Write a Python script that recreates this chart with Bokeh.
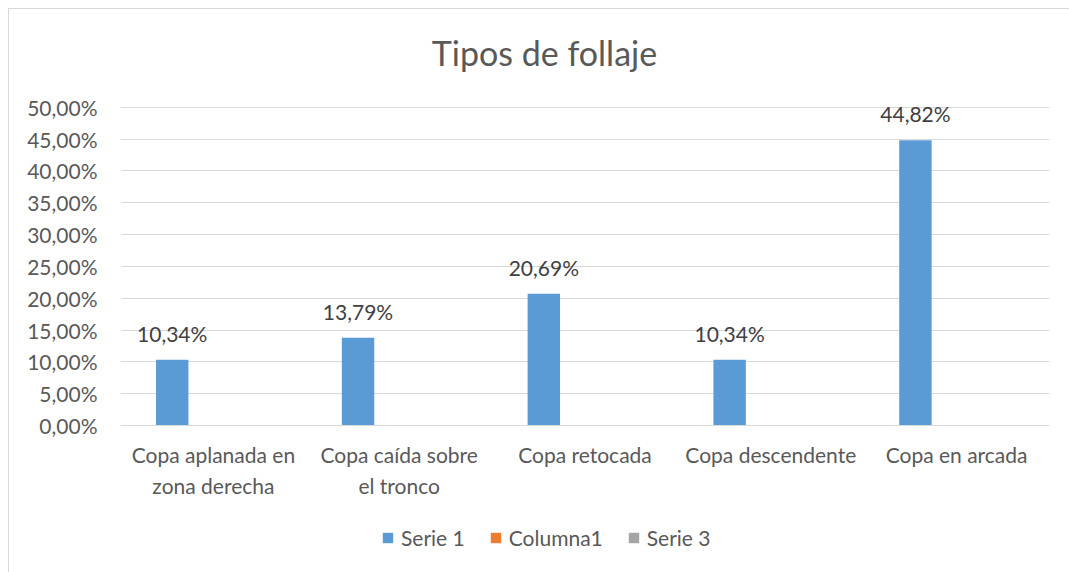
from bokeh.plotting import figure
from bokeh.models import (FactorRange, Range1d, FixedTicker, ColumnDataSource, LabelSet,
                          Legend, LegendItem, Label)
from bokeh.core.properties import value
from bokeh.transform import dodge
from bokeh.embed import file_html
from bokeh.resources import INLINE

# ---- data ----
title_text = "Tipos de follaje"
categories = ["Copa aplanada en\nzona derecha", "Copa caída sobre\nel tronco",
              "Copa retocada", "Copa descendente", "Copa en arcada"]
serie1 = [0.1034, 0.1379, 0.2069, 0.1034, 0.4482]
serie1_labels = ["10,34%", "13,79%", "20,69%", "10,34%", "44,82%"]
columna1 = [float("nan")] * 5   # empty series (legend only)
serie3 = [float("nan")] * 5     # empty series (legend only)
series_names = ["Serie 1", "Columna1", "Serie 3"]
series_colors = ["#5B9BD5", "#ED7D31", "#A5A5A5"]
y_ticks = [0.0, 0.05, 0.10, 0.15, 0.20, 0.25, 0.30, 0.35, 0.40, 0.45, 0.50]
y_tick_labels = ["0,00%", "5,00%", "10,00%", "15,00%", "20,00%", "25,00%",
                 "30,00%", "35,00%", "40,00%", "45,00%", "50,00%"]

FONT = "Lato"
TXT = "#595959"
FS = "21px"

# The frame spans the whole chart height; the value axis only ticks 0..50 %,
# the category axis is pinned at 0, so title, labels and legend all sit inside.
p = figure(x_range=FactorRange(*categories), y_range=Range1d(-0.2309, 0.6535),
           frame_width=929, frame_height=563,
           min_border_left=111, min_border_right=20, min_border_top=0,
           min_border_bottom=0,
           output_backend="svg", toolbar_location=None, margin=(8, 0, 0, 8))
p.styles = {"border-left": "1px solid #D9D9D9", "border-top": "1px solid #D9D9D9"}

p.outline_line_color = None
p.background_fill_color = "white"
p.border_fill_color = "white"

src = ColumnDataSource(dict(cat=categories, s1=serie1, s2=columna1, s3=serie3,
                            lab=serie1_labels))
offsets = [-0.2216, 0.0, 0.2216]
rends = []
for col, off, color in zip(["s1", "s2", "s3"], offsets, series_colors):
    rends.append(p.vbar(x=dodge("cat", off, range=p.x_range), top=col, width=0.1745,
                        source=src, fill_color=color, line_color=None))

labels = LabelSet(x=dodge("cat", offsets[0], range=p.x_range), y="s1", text="lab",
                  source=src, text_align="center", text_baseline="alphabetic",
                  y_offset=18, text_font=value(FONT), text_font_size=FS,
                  text_color="#404040")
p.add_layout(labels)

title = Label(x=2.282, y=0.5864, text=title_text, text_align="center",
              text_baseline="alphabetic", text_font=FONT, text_font_size="34px",
              text_color=TXT)
p.add_layout(title)

# axes
p.yaxis.ticker = FixedTicker(ticks=y_ticks)
p.yaxis.major_label_overrides = {t: l for t, l in zip(y_ticks, y_tick_labels)}
p.yaxis.axis_line_color = None
p.yaxis.major_tick_line_color = None
p.yaxis.minor_tick_line_color = None
p.yaxis.major_tick_out = 0
p.yaxis.major_label_standoff = 23
p.yaxis.major_label_text_font = FONT
p.yaxis.major_label_text_font_size = FS
p.yaxis.major_label_text_color = TXT

p.xaxis.fixed_location = 0
p.xaxis.axis_line_color = "#D9D9D9"
p.xaxis.axis_line_width = 1
p.xaxis.major_tick_line_color = None
p.xaxis.major_tick_out = 0
p.xaxis.major_label_standoff = 16
p.xaxis.major_label_text_font = FONT
p.xaxis.major_label_text_font_size = FS
p.xaxis.major_label_text_color = TXT
p.xaxis.major_label_text_line_height = 1.25

p.xgrid.grid_line_color = None
p.ygrid.grid_line_color = "#D9D9D9"
p.ygrid.grid_line_width = 1

legend = Legend(items=[LegendItem(label=n, renderers=[r]) for n, r in
                       zip(series_names, rends)],
                orientation="horizontal", location=(261, 22),
                glyph_width=13, glyph_height=13, label_standoff=7, spacing=24,
                label_text_font=FONT, label_text_font_size=FS,
                label_text_color=TXT, border_line_color=None,
                background_fill_alpha=0, padding=0, margin=0)
p.add_layout(legend, "center")

open("out.html", "w").write(file_html(p, INLINE))
